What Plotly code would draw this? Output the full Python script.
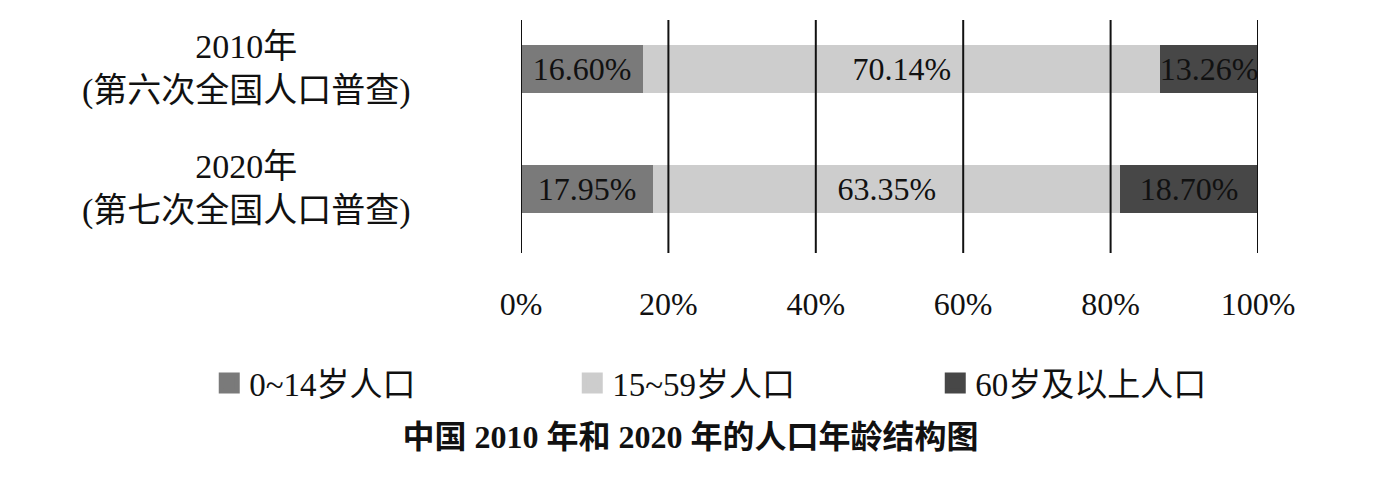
import plotly.graph_objects as go

years = ["2010年", "2020年"]
census = ["(第六次全国人口普查)", "(第七次全国人口普查)"]
groups = ["0~14岁人口", "15~59岁人口", "60岁及以上人口"]
share_2010 = [16.60, 70.14, 13.26]
share_2020 = [17.95, 63.35, 18.70]
colors = ["#7a7a7a", "#cdcdcd", "#474747"]
tick_vals = [0, 20, 40, 60, 80, 100]
tick_text = ["0%", "20%", "40%", "60%", "80%", "100%"]
title_text = "中国 2010 年和 2020 年的人口年龄结构图"

SERIF = "Liberation Serif, Times New Roman, Noto Sans CJK SC, serif"

fig = go.Figure()
for i, g in enumerate(groups):
    vals = [share_2010[i], share_2020[i]]
    fig.add_trace(go.Bar(
        y=years, x=vals, orientation="h", name=g,
        marker=dict(color=colors[i], line=dict(width=0)),
        width=0.4,
        text=[f"{v:.2f}%" for v in vals],
        textposition="inside", insidetextanchor="middle",
        constraintext="none",
        textfont=dict(family=SERIF, size=32, color="#111111"),
        showlegend=False, hoverinfo="skip",
    ))
    # legend entry with a larger square symbol
    fig.add_trace(go.Scatter(
        x=[None], y=[None], mode="markers", name=g,
        marker=dict(symbol="square", size=16, color=colors[i],
                    line=dict(color=colors[i], width=5)),
        showlegend=True,
    ))

for v in tick_vals:
    fig.add_vline(x=v, line=dict(color="#111111", width=2), layer="above")

for yr, cs in zip(years, census):
    fig.add_annotation(
        x=-0.372, xref="paper", y=yr, yref="y",
        text=f"{yr}<br>{cs}", showarrow=False, align="center",
        xanchor="center", yanchor="middle",
        font=dict(family=SERIF, size=34, color="#111111"),
    )

fig.update_layout(
    width=1365, height=465,
    margin=dict(l=513, r=115, t=12, b=220),
    paper_bgcolor="white", plot_bgcolor="white",
    barmode="stack",
    title=dict(text=f"<b>{title_text}</b>", x=0.5, xanchor="center",
               y=1 - 429 / 465, yanchor="middle", yref="container",
               font=dict(family=SERIF, size=32, color="#111111")),
    legend=dict(orientation="h", x=-0.423, xanchor="left",
                y=-0.558, yanchor="middle", traceorder="normal",
                entrywidth=318, entrywidthmode="pixels",
                font=dict(family=SERIF, size=33, color="#111111"),
                bgcolor="rgba(0,0,0,0)"),
    xaxis=dict(range=[0, 100], tickvals=tick_vals, ticktext=tick_text,
               showgrid=False, zeroline=False, showline=False, ticks="",
               ticklabelstandoff=29,
               tickfont=dict(family=SERIF, size=32, color="#111111")),
    yaxis=dict(type="category", categoryorder="array", categoryarray=years,
               range=[1.53, -0.41], showticklabels=False, showgrid=False,
               zeroline=False, showline=False, ticks=""),
)

fig.write_html("out.html")
